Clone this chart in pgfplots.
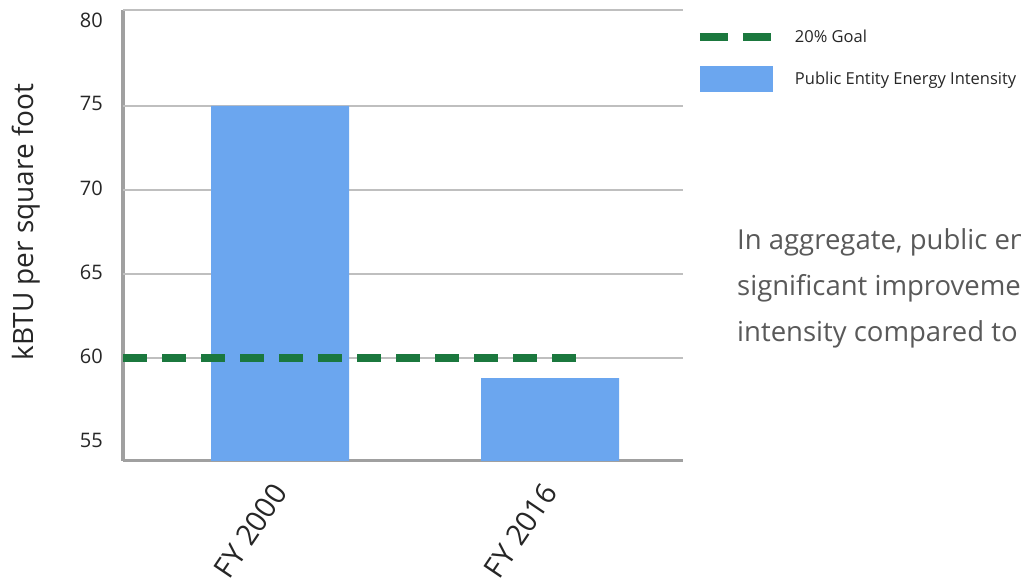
\documentclass[border=0pt]{standalone}
\usepackage{fontspec}
\setmainfont{Open Sans}
\usepackage{pgfplots}
\pgfplotsset{compat=1.18}
\definecolor{barblue}{RGB}{107,166,239}
\definecolor{goalgreen}{RGB}{27,120,62}
\definecolor{gridgrey}{RGB}{191,191,191}
\definecolor{axisgrey}{RGB}{160,160,160}
\definecolor{textgrey}{RGB}{89,89,89}
\definecolor{ticktext}{RGB}{38,38,38}

\begin{document}
\begin{tikzpicture}
\useasboundingbox (0,0) rectangle (1021bp,586bp);
\begin{axis}[
    at={(123bp,125bp)}, anchor=south west,
    scale only axis, width=560bp, height=451bp,
    xmin=-0.5815, xmax=1.4926,
    ymin=53.87, ymax=80.71,
    xtick={0,1}, xticklabels={FY 2000,FY 2016},
    ytick={55,60,...,80},
    extra y ticks={60,65,70,75}, extra y tick labels={},
    extra y tick style={grid=major, major grid style={gridgrey, line width=1.2bp}},
    major tick length=0pt,
    axis lines=left,
    axis line style={-, axisgrey, line width=3bp},
    tick label style={text=ticktext},
    /pgf/number format/assume math mode=true,
    yticklabel style={font=\fontsize{20bp}{22bp}\selectfont, inner sep=0pt, anchor=east, yshift=2bp},
    yticklabel shift=20bp,
    xticklabel style={font=\fontsize{29bp}{31bp}\selectfont, inner sep=0pt, rotate=56, anchor=east},
    xticklabel shift=26bp,
    ylabel={kBTU per square foot},
    ylabel style={at={(axis description cs:-0.173,0.53)}, anchor=center, font=\fontsize{28bp}{30bp}\selectfont, text=ticktext},
    legend style={at={(axis description cs:1.0175,0.965)}, anchor=north west, draw=none, fill=none,
        font=\fontsize{16.5bp}{20bp}\selectfont, text=ticktext, row sep=20bp,
        cells={anchor=west}},
    /tikz/every odd column/.append style={column sep=17bp},
]
\addlegendimage{legend image code/.code={\draw[goalgreen, line width=8bp, dash pattern=on 28bp off 15bp] (0bp,0bp) -- (72bp,0bp);}}
\addlegendentry{20\% Goal}
\addlegendimage{legend image code/.code={\fill[barblue] (0bp,-12.5bp) rectangle (72bp,12.5bp);}}
\addlegendentry{Public Entity Energy Intensity}

\draw[gridgrey, line width=1.2bp] (rel axis cs:0,1) -- (rel axis cs:1,1);

\addplot[ybar, bar width=138bp, fill=barblue, draw=none, forget plot]
    coordinates {(0,75) (1,58.8)};
\addplot[goalgreen, line width=8bp, dash pattern=on 24bp off 15bp, forget plot]
    coordinates {(-0.5815,60) (1.0963,60)};
\end{axis}
\begin{scope}[font=\fontsize{27.5bp}{30bp}\selectfont, text=textgrey]
\node[anchor=base west, inner sep=0pt] at (737bp,336bp) {In aggregate, public entities have made};
\node[anchor=base west, inner sep=0pt] at (737bp,290bp) {significant improvements in energy};
\node[anchor=base west, inner sep=0pt] at (737bp,244bp) {intensity compared to the FY 2000 baseline.};
\end{scope}
\end{tikzpicture}
\end{document}
